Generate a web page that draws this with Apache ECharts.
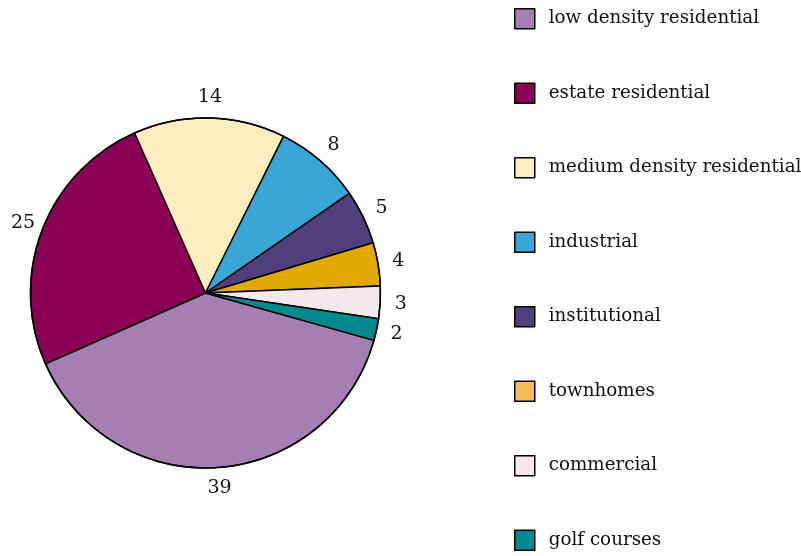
<!DOCTYPE html>
<html><head><meta charset="utf-8">
<script src="https://cdn.jsdelivr.net/npm/echarts@6/dist/echarts.min.js"></script>
<style>html,body{margin:0;padding:0;background:#fff}#c{width:801px;height:556px}</style>
</head><body><div id="c"></div>
<script>
const categories = ['low density residential','estate residential','medium density residential','industrial','institutional','townhomes','commercial','golf courses'];
const values = [39,25,14,8,5,4,3,2];
const sliceColors = ['#a57fb2','#8b0054','#feedc1','#3aa6d8','#4f407b','#e1a800','#f3e8ec','#008a8e'];
const legendColors = ['#a57fb2','#8b0054','#feedc1','#3aa6d8','#4f407b','#f5be55','#f3e8ec','#008a8e'];

const FONT = 'DejaVu Serif';
const chart = echarts.init(document.getElementById('c'), null, {renderer:'canvas'});
const center = [205.5, 293];
const startAngle = -15.7;
chart.setOption({
  animation:false,
  legend:{
    orient:'vertical', left:514, top:8, padding:0, height:550,
    itemWidth:20, itemHeight:20, itemGap:53,
    icon:'rect',
    itemStyle:{borderColor:'#000', borderWidth:1.5},
    textStyle:{fontFamily:FONT, fontSize:18.3, lineHeight:20, color:'#111', padding:[0,0,0,9]},
    selectedMode:false,
    data: categories.map((n,i)=>({name:n, itemStyle:{color:legendColors[i], borderColor:'#000', borderWidth:1.5}}))
  },
  series:[
    {
      type:'pie', center:center, radius:[0,175], startAngle:startAngle, clockwise:true,
      label:{show:false}, labelLine:{show:false},
      itemStyle:{borderColor:'#000', borderWidth:1.5},
      emphasis:{disabled:true},
      data: categories.map((n,i)=>({name:n, value:values[i], itemStyle:{color:sliceColors[i]}}))
    },
    {
      type:'pie', center:center, radius:[175,175], startAngle:startAngle, clockwise:true, silent:true,
      label:{show:false}, labelLine:{show:false},
      itemStyle:{color:'none', borderColor:'#000', borderWidth:1.4},
      data: categories.map((n,i)=>({name:n, value:values[i]}))
    },
    {
      type:'pie', center:center, radius:[176,209], startAngle:startAngle, clockwise:true, silent:true,
      itemStyle:{color:'rgba(0,0,0,0)', borderWidth:0},
      label:{show:true, position:'inside', formatter:'{c}', fontFamily:FONT, fontSize:19, color:'#111'},
      labelLine:{show:false},
      data: categories.map((n,i)=>({name:n, value:values[i]}))
    }
  ]
});
</script></body></html>
